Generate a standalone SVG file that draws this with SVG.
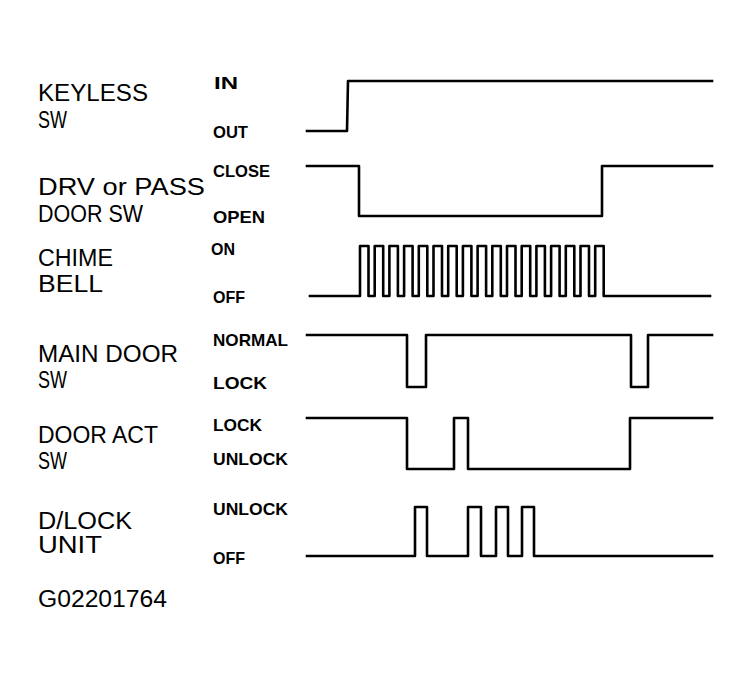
<svg xmlns="http://www.w3.org/2000/svg" width="750" height="684" viewBox="0 0 750 684">
<style>
.bg{fill:#fff}
.lbl{font-family:"Liberation Sans",Arial,sans-serif;font-size:23px;fill:#000}
.st{font-family:"Liberation Sans",Arial,sans-serif;font-size:17px;font-weight:bold;fill:#000}
.w{fill:none;stroke:#000;stroke-width:2.6;stroke-linejoin:round;stroke-linecap:square}
</style>
<rect class="bg" x="0" y="0" width="750" height="684"/>
<g id="keyless-sw">
<text class="lbl" x="38" y="101" textLength="110" lengthAdjust="spacingAndGlyphs">KEYLESS</text>
<text class="lbl" x="38" y="128" textLength="29" lengthAdjust="spacingAndGlyphs">SW</text>
<text class="st" x="214" y="89" textLength="24" lengthAdjust="spacingAndGlyphs">IN</text>
<text class="st" x="213" y="138" textLength="35" lengthAdjust="spacingAndGlyphs">OUT</text>
<path class="w" d="M307,131 H347 L348,81 H712"/>
</g>
<g id="door-sw">
<text class="lbl" x="38" y="195" textLength="167" lengthAdjust="spacingAndGlyphs">DRV or PASS</text>
<text class="lbl" x="38" y="222" textLength="105" lengthAdjust="spacingAndGlyphs">DOOR SW</text>
<text class="st" x="213" y="177" textLength="57" lengthAdjust="spacingAndGlyphs">CLOSE</text>
<text class="st" x="213" y="223" textLength="52" lengthAdjust="spacingAndGlyphs">OPEN</text>
<path class="w" d="M307,166 H359 V216 H602 V166 H712"/>
</g>
<g id="chime-bell">
<text class="lbl" x="38" y="266" textLength="75" lengthAdjust="spacingAndGlyphs">CHIME</text>
<text class="lbl" x="38" y="292" textLength="65" lengthAdjust="spacingAndGlyphs">BELL</text>
<text class="st" x="211" y="255" textLength="24" lengthAdjust="spacingAndGlyphs">ON</text>
<text class="st" x="213" y="303" textLength="32" lengthAdjust="spacingAndGlyphs">OFF</text>
<path class="w" d="M310,296 H360 V246 H368.5 V296 H374.7 V246 H383.2 V296 H389.4 V246 H397.9 V296 H404.1 V246 H412.6 V296 H418.8 V246 H427.3 V296 H433.5 V246 H442 V296 H448.2 V246 H456.7 V296 H462.9 V246 H471.4 V296 H477.6 V246 H486.1 V296 H492.3 V246 H500.8 V296 H507 V246 H515.5 V296 H521.7 V246 H530.2 V296 H536.4 V246 H544.9 V296 H551.1 V246 H559.6 V296 H565.8 V246 H574.3 V296 H580.5 V246 H589 V296 H595.2 V246 H603.7 V296 H710"/>
</g>
<g id="main-door-sw">
<text class="lbl" x="38" y="362" textLength="140" lengthAdjust="spacingAndGlyphs">MAIN DOOR</text>
<text class="lbl" x="38" y="388" textLength="29" lengthAdjust="spacingAndGlyphs">SW</text>
<text class="st" x="213" y="346" textLength="75" lengthAdjust="spacingAndGlyphs">NORMAL</text>
<text class="st" x="213" y="389" textLength="54" lengthAdjust="spacingAndGlyphs">LOCK</text>
<path class="w" d="M307,335 H407 V387 H426 V335 H631 V387 H648 V335 H712"/>
</g>
<g id="door-act-sw">
<text class="lbl" x="38" y="443" textLength="120" lengthAdjust="spacingAndGlyphs">DOOR ACT</text>
<text class="lbl" x="38" y="469" textLength="29" lengthAdjust="spacingAndGlyphs">SW</text>
<text class="st" x="213" y="431" textLength="49" lengthAdjust="spacingAndGlyphs">LOCK</text>
<text class="st" x="213" y="465" textLength="75" lengthAdjust="spacingAndGlyphs">UNLOCK</text>
<path class="w" d="M307,418 H407 V469 H454 V418 H468 V469 H630 V418 H712"/>
</g>
<g id="dlock-unit">
<text class="lbl" x="38" y="529" textLength="94" lengthAdjust="spacingAndGlyphs">D/LOCK</text>
<text class="lbl" x="38" y="553" textLength="64" lengthAdjust="spacingAndGlyphs">UNIT</text>
<text class="st" x="213" y="515" textLength="75" lengthAdjust="spacingAndGlyphs">UNLOCK</text>
<text class="st" x="213" y="564" textLength="32" lengthAdjust="spacingAndGlyphs">OFF</text>
<path class="w" d="M307,556 H415 V507 H427 V556 H468 V507 H481 V556 H496 V507 H508 V556 H522 V507 H534 V556 H712"/>
</g>
<g id="connectors"></g>
<text class="lbl" x="38" y="607" textLength="129" lengthAdjust="spacingAndGlyphs">G02201764</text>
</svg>
